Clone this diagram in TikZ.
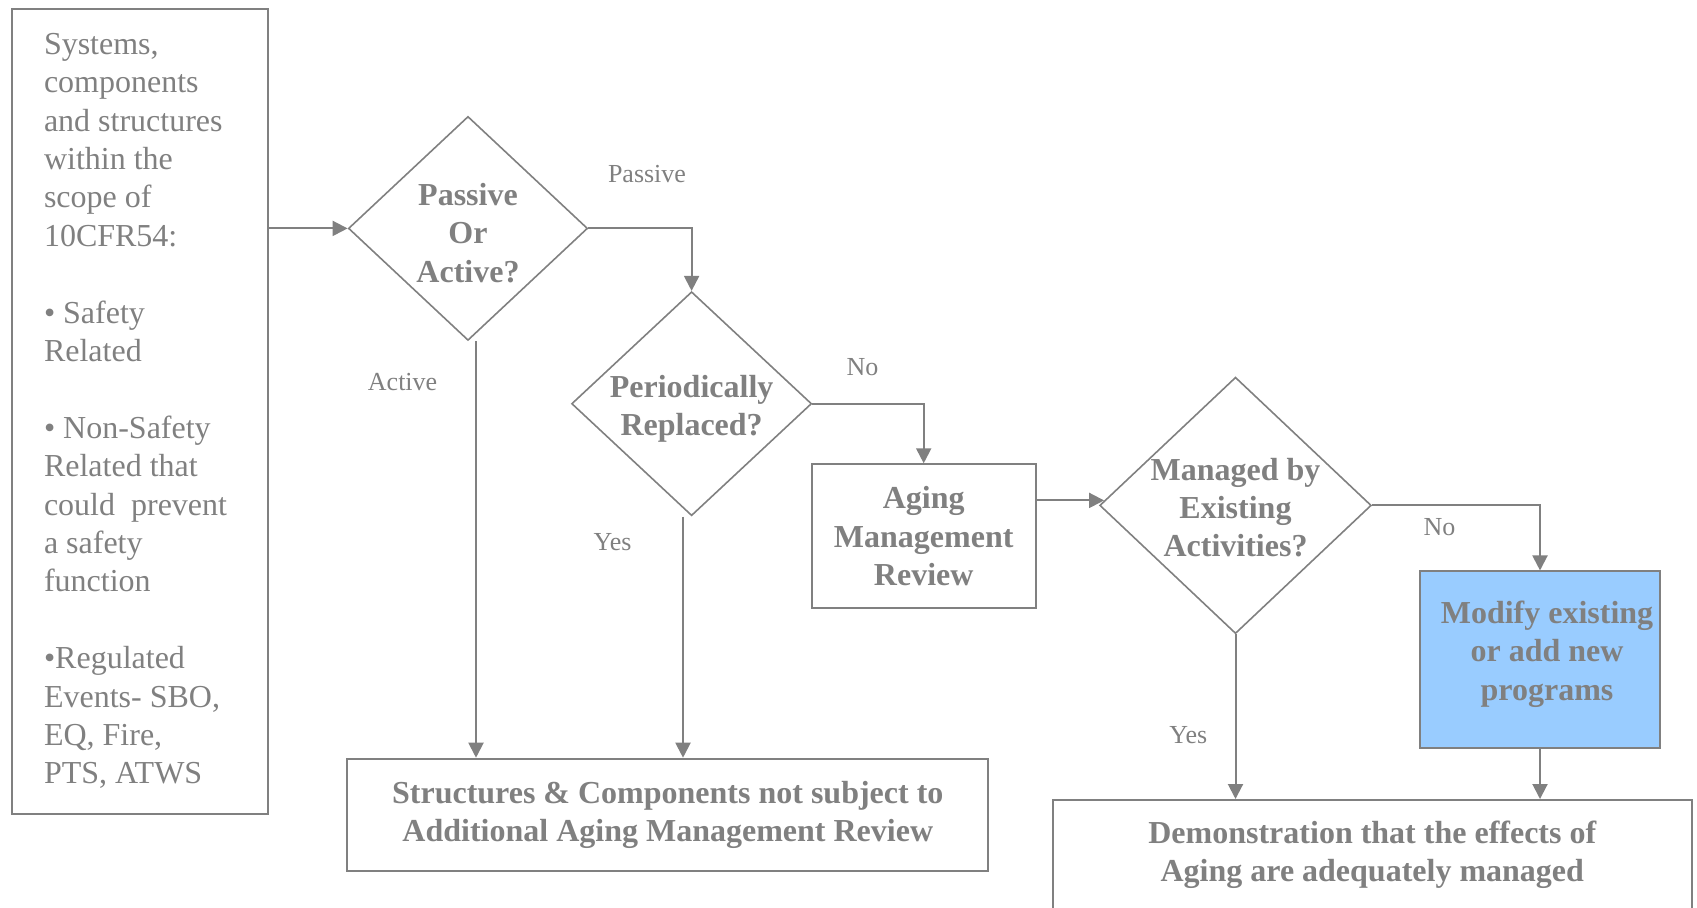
\documentclass[tikz,border=0pt]{standalone}
\usepackage{fontspec}
\setmainfont{Liberation Serif}
\usetikzlibrary{shapes.geometric,arrows.meta}
\definecolor{linegray}{RGB}{128,128,128}
\definecolor{progblue}{RGB}{153,204,255}

\begin{document}
\begin{tikzpicture}[x=0.5pt, y=-0.5pt, text=linegray,
   box/.style={rectangle, draw=linegray, line width=1pt, align=center, font=\fontsize{16}{19.2}\selectfont\bfseries},
   decision/.style={diamond, draw=linegray, line width=0.8pt, inner sep=0pt},
   question/.style={align=center, font=\fontsize{16}{19.2}\selectfont\bfseries},
   answer/.style={font=\fontsize{13}{15.6}\selectfont},
   flow/.style={draw=linegray, line width=1pt, -{Triangle[length=7.5pt,width=7.5pt]}}]

  \useasboundingbox (0,0) rectangle (1697,907);

  % scope of the review
  \node [box, font=\fontsize{16}{19.2}\selectfont, align=flush left, text width=96pt,
         minimum width=128pt, minimum height=402.5pt] (scope) at (140,411)
    {Systems,\\components\\and structures\\within the\\scope of\\10CFR54:\\[19.2pt]%
     • Safety\\Related\\[19.2pt]%
     • Non-Safety\\Related that\\could~ prevent\\a safety\\function\\[19.2pt]%
     •Regulated\\Events- SBO,\\EQ, Fire,\\PTS, ATWS};

  % decisions
  \node [decision, minimum width=119.6pt, minimum height=112pt] (d1) at (468,228.4) {};
  \node [question] (d1q) at (468,233) {Passive\\Or\\Active?};

  \node [decision, minimum width=120pt, minimum height=112pt] (d2) at (691.6,403.7) {};
  \node [question] (d2q) at (691.6,408.5) {Periodically\\Replaced?};

  \node [decision, minimum width=135.8pt, minimum height=128.2pt] (d3) at (1235.5,505.4) {};
  \node [question] (d3q) at (1235.5,507.6) {Managed by\\Existing\\Activities?};

  % boxes
  \node [box, minimum width=112pt, minimum height=72pt] (amr) at (923.7,536.3)
    {Aging\\Management\\Review};
  \node [box, fill=progblue, minimum width=120pt, minimum height=88.25pt] (mod) at (1540,659.7) {};
  \node [question] (modq) at (1547,654) {Modify existing\\or add new\\programs};
  \node [box, minimum width=320.4pt, minimum height=56.3pt] (notsub) at (667.8,815)
    {Structures \& Components not subject to\\Additional Aging Management Review};
  \node [box, minimum width=319.3pt, minimum height=55pt] (demo) at (1372.3,855)
    {Demonstration that the effects of\\Aging are adequately managed};

  % answers
  \node [answer] (apassive) at (647,174) {Passive};
  \node [answer] (aactive) at (402.6,382) {Active};
  \node [answer] (ano1) at (862.6,367) {No};
  \node [answer] (ayes1) at (612.6,542) {Yes};
  \node [answer] (ano2) at (1439.5,527) {No};
  \node [answer] (ayes2) at (1188.4,735) {Yes};

  \draw [flow] (scope.east |- d1.west) -- (d1.west);
  \foreach \from/\to in {d1/d2, d2/amr, d3/mod}
    \draw [flow] (\from.east) -| (\to.north);
  \draw [flow] ([yshift=2.5pt]amr.east |- d3.west) -- ([yshift=2.5pt, xshift=2.6pt]d3.west);
  \draw [flow] ([xshift=4pt]d1.south) -- ([xshift=4pt]d1.south |- notsub.north);
  \draw [flow] ([xshift=-4.3pt]d2.south) -- ([xshift=-4.3pt]d2.south |- notsub.north);
  \draw [flow] (d3.south) -- (d3.south |- demo.north);
  \draw [flow] (mod.south) -- (mod.south |- demo.north);

\end{tikzpicture}
\end{document}
